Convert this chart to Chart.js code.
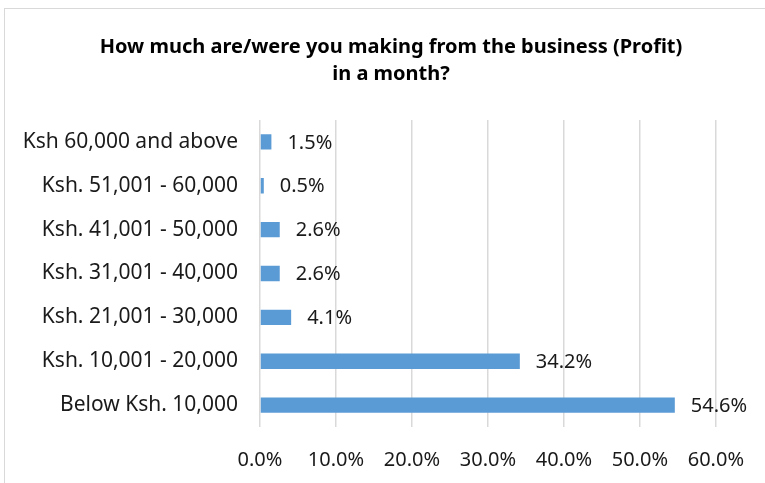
<!DOCTYPE html>
<html>
<head>
<meta charset="utf-8">
<script src="https://cdn.jsdelivr.net/npm/chart.js@4"></script>
<style>
  html, body { margin: 0; padding: 0; background: #fff; }
  #frame {
    position: absolute; left: 4px; top: 8px; width: 800px; height: 500px;
    border: 1px solid #d9d9d9; box-sizing: border-box;
  }
  #wrap { position: absolute; left: 0; top: 0; width: 765px; height: 483px; }
</style>
</head>
<body>
<div id="frame"></div>
<div id="wrap"><canvas id="chart" width="765" height="483"></canvas></div>
<script>
// Monthly profit brackets, top to bottom as drawn
const categories = [
  'Ksh 60,000 and above',
  'Ksh. 51,001 - 60,000',
  'Ksh. 41,001 - 50,000',
  'Ksh. 31,001 - 40,000',
  'Ksh. 21,001 - 30,000',
  'Ksh. 10,001 - 20,000',
  'Below Ksh. 10,000'
];
const shares = [1.5, 0.5, 2.6, 2.6, 4.1, 34.2, 54.6];
const xTicks = [0, 10, 20, 30, 40, 50, 60];
const titleLines = ['How much are/were you making from the business (Profit)', 'in a month?'];

const FONT = "'Noto Sans', sans-serif";
const TEXT = '#1a1a1a';

// Two-line heading, centred over the whole chart frame
const heading = {
  id: 'heading',
  afterDraw(chart) {
    const ctx = chart.ctx;
    ctx.save();
    ctx.font = 'bold 20px ' + FONT;
    ctx.fillStyle = '#000';
    ctx.textAlign = 'center';
    ctx.textBaseline = 'middle';
    titleLines.forEach((line, i) => ctx.fillText(line, 391, 47 + i * 27));
    ctx.restore();
  }
};

// Percent labels to the right of each bar
const valueLabels = {
  id: 'valueLabels',
  afterDatasetsDraw(chart) {
    const ctx = chart.ctx;
    const meta = chart.getDatasetMeta(0);
    ctx.save();
    ctx.font = '20px ' + FONT;
    ctx.fillStyle = TEXT;
    ctx.textBaseline = 'middle';
    ctx.textAlign = 'left';
    meta.data.forEach((bar, i) => {
      ctx.fillText(shares[i].toFixed(1) + '%', bar.x + 16, bar.y + 1);
    });
    ctx.restore();
  }
};

new Chart(document.getElementById('chart'), {
  type: 'bar',
  data: {
    labels: categories,
    datasets: [{
      data: shares,
      backgroundColor: '#5b9bd5',
      borderWidth: 0,
      barPercentage: 0.5,
      categoryPercentage: 0.7
    }]
  },
  options: {
    indexAxis: 'y',
    responsive: false,
    animation: false,
    layout: { padding: { left: 20, right: 48, top: 120, bottom: 0 } },
    plugins: {
      legend: { display: false },
      tooltip: { enabled: false },
      title: { display: false }
    },
    scales: {
      x: {
        min: 0,
        max: 60,
        afterBuildTicks(scale) {
          scale.ticks = xTicks.map(v => ({ value: v }));
        },
        afterFit(scale) { scale.height = 56; },
        grid: { color: '#d9d9d9', lineWidth: 1.5, drawTicks: false },
        border: { display: false },
        ticks: {
          color: TEXT,
          font: { family: FONT, size: 20 },
          padding: 21,
          callback: v => v.toFixed(1) + '%'
        }
      },
      y: {
        afterFit(scale) { scale.width = 240; },
        grid: { display: false, drawTicks: false },
        border: { display: false },
        ticks: {
          color: TEXT,
          font: { family: FONT, size: 21 },
          padding: 22
        }
      }
    }
  },
  plugins: [valueLabels, heading]
});
</script>
</body>
</html>
